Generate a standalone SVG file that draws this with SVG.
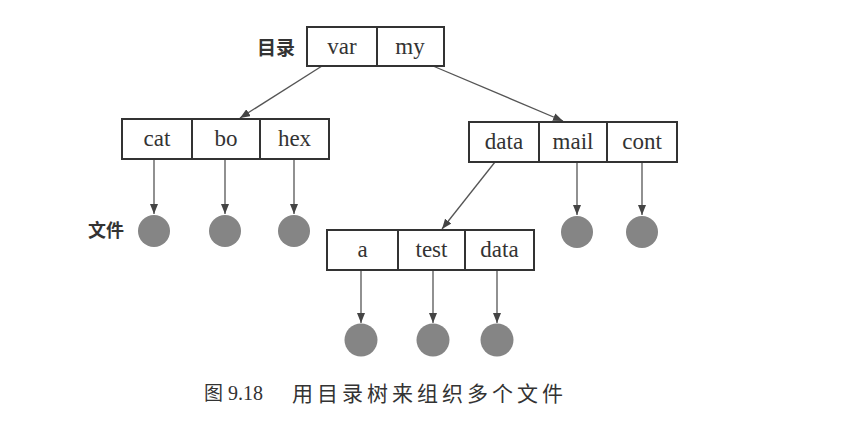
<svg xmlns="http://www.w3.org/2000/svg" width="855" height="428" viewBox="0 0 855 428">
<style>
.box{fill:#fff;stroke:#333;stroke-width:2}
.div{stroke:#333;stroke-width:2}
.lbl{font-family:"Liberation Serif",serif;font-size:23px;fill:#333;text-anchor:middle}
.cjk{font-family:"Noto Sans CJK SC",sans-serif;fill:#333}
.edge{stroke:#555;stroke-width:1.3;fill:none;marker-end:url(#arr)}
.file{fill:#858585}
</style>
<defs>
<marker id="arr" markerUnits="userSpaceOnUse" markerWidth="10" markerHeight="8" refX="10" refY="4" orient="auto">
<path d="M0,0 L10,4 L0,8 z" fill="#444"/>
</marker>
</defs>
<rect width="855" height="428" fill="#fff"/>
<g id="connectors">
<line class="edge" x1="322" y1="66" x2="240" y2="118"/>
<line class="edge" x1="433" y1="66" x2="563" y2="121"/>
<line class="edge" x1="154" y1="159" x2="154" y2="214"/>
<line class="edge" x1="225" y1="159" x2="225" y2="214"/>
<line class="edge" x1="294" y1="159" x2="294" y2="214"/>
<line class="edge" x1="495" y1="162" x2="442" y2="229"/>
<line class="edge" x1="577" y1="162" x2="577" y2="215"/>
<line class="edge" x1="642" y1="162" x2="642" y2="215"/>
<line class="edge" x1="361" y1="270" x2="361" y2="323"/>
<line class="edge" x1="433" y1="270" x2="433" y2="323"/>
<line class="edge" x1="497" y1="270" x2="497" y2="323"/>
</g>
<g id="dir-root">
<text class="cjk" x="257" y="55" font-size="19" font-weight="bold">目录</text>
<rect class="box" x="307" y="27" width="137" height="39"/>
<line class="div" x1="377" y1="27" x2="377" y2="66"/>
<text class="lbl" x="342" y="54">var</text>
<text class="lbl" x="410" y="54">my</text>
</g>
<g id="dir-var">
<rect class="box" x="122" y="119" width="207" height="40"/>
<line class="div" x1="192" y1="119" x2="192" y2="159"/>
<line class="div" x1="260" y1="119" x2="260" y2="159"/>
<text class="lbl" x="157" y="146">cat</text>
<text class="lbl" x="226" y="146">bo</text>
<text class="lbl" x="294.5" y="146">hex</text>
</g>
<g id="dir-my">
<rect class="box" x="469" y="122" width="208" height="40"/>
<line class="div" x1="539" y1="122" x2="539" y2="162"/>
<line class="div" x1="607" y1="122" x2="607" y2="162"/>
<text class="lbl" x="504" y="149">data</text>
<text class="lbl" x="573" y="149">mail</text>
<text class="lbl" x="642" y="149">cont</text>
</g>
<g id="dir-data">
<rect class="box" x="327" y="230" width="207" height="40"/>
<line class="div" x1="398" y1="230" x2="398" y2="270"/>
<line class="div" x1="465" y1="230" x2="465" y2="270"/>
<text class="lbl" x="362.5" y="257">a</text>
<text class="lbl" x="431.5" y="257">test</text>
<text class="lbl" x="499.5" y="257">data</text>
</g>
<g id="files-var">
<text class="cjk" x="88" y="237" font-size="18" font-weight="bold">文件</text>
<circle class="file" cx="154" cy="231" r="16"/>
<circle class="file" cx="225" cy="231" r="16"/>
<circle class="file" cx="294" cy="231" r="16"/>
</g>
<g id="files-my">
<circle class="file" cx="577" cy="232" r="16"/>
<circle class="file" cx="642" cy="232" r="16"/>
</g>
<g id="files-data">
<circle class="file" cx="361" cy="340" r="16.5"/>
<circle class="file" cx="433" cy="340" r="16.5"/>
<circle class="file" cx="497" cy="340" r="16.5"/>
</g>
<g id="caption">
<text class="cjk" x="204" y="400" font-size="19">图</text>
<text x="228" y="400" font-family="Liberation Serif,serif" font-size="20" fill="#333">9.18</text>
<text class="cjk" x="292" y="401" font-size="21" letter-spacing="4">用目录树来组织多个文件</text>
</g>
</svg>
